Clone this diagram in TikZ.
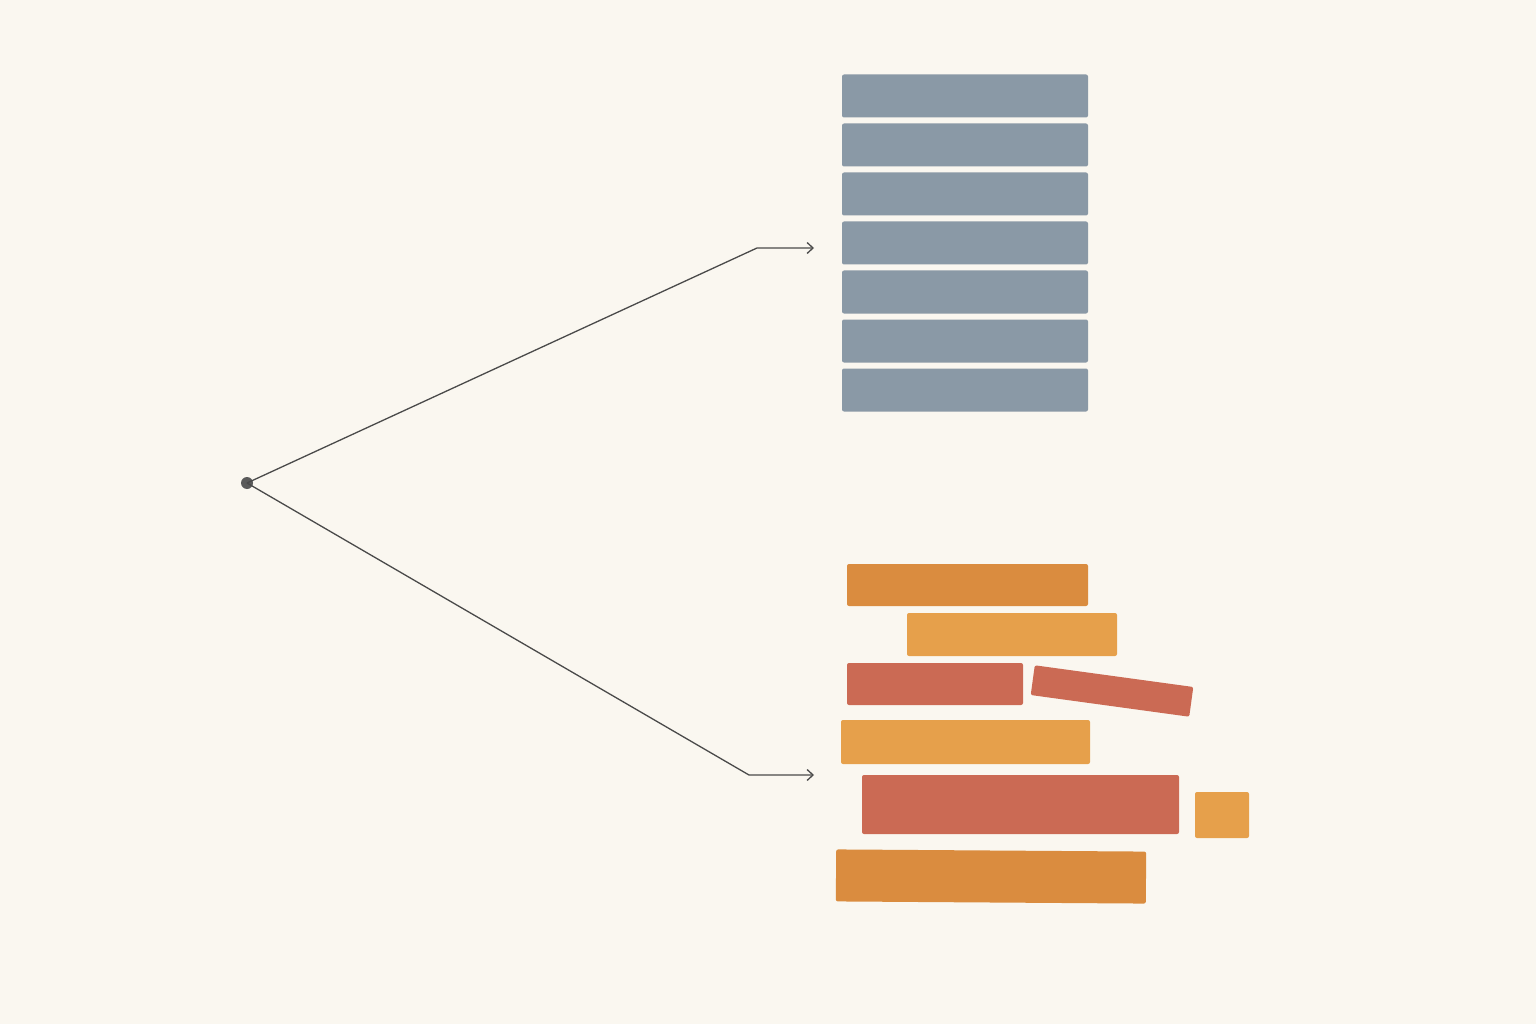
\documentclass[tikz,border=0pt]{standalone}
\usetikzlibrary{positioning, arrows.meta}
\definecolor{paper}{HTML}{FAF7F0}
\definecolor{slate}{HTML}{8A99A6}
\definecolor{amber}{HTML}{DA8C3F}
\definecolor{apricot}{HTML}{E6A04B}
\definecolor{brick}{HTML}{CB6A54}
\definecolor{ink}{HTML}{4A4A4A}
\definecolor{dot}{HTML}{5A5A5A}
\begin{document}
\begin{tikzpicture}[x=1pt, y=-1pt, node distance=49pt, on grid, line width=1.3pt,
	slat/.style={fill=slate, rounded corners=2pt, inner sep=0pt, minimum width=246pt, minimum height=43pt},
	brick/.style={fill=#1, rounded corners=2pt, inner sep=0pt},
	link/.style={-{Straight Barb[length=6pt, width=11pt]}, ink, line width=1.3pt}]
	\fill[paper] (0,0) rectangle (1536,1024);
	\useasboundingbox (0,0) rectangle (1536,1024);

	% tidy stack
	\node[slat] (s1) at (965,96) {};
	\node[slat] (s2) [below=of s1] {};
	\node[slat] (s3) [below=of s2] {};
	\node[slat] (s4) [below=of s3] {};
	\node[slat] (s5) [below=of s4] {};
	\node[slat] (s6) [below=of s5] {};
	\node[slat] (s7) [below=of s6] {};

	% messy pile
	\node[brick=amber, minimum width=241pt, minimum height=42pt] (m1) at (967.5,585) {};
	\node[brick=apricot, minimum width=210pt, minimum height=43pt] (m2) at (1012,634.5) {};
	\node[brick=brick, minimum width=176pt, minimum height=42pt] (m3) at (935,684) {};
	\node[brick=brick, minimum width=160pt, minimum height=30pt, rotate=-7.8] (m4) at (1112,691) {};
	\node[brick=apricot, minimum width=249pt, minimum height=44pt] (m5) at (965.5,742) {};
	\node[brick=brick, minimum width=317pt, minimum height=59pt] (m6) at (1020.5,804.5) {};
	\node[brick=apricot, minimum width=54pt, minimum height=46pt] (m7) at (1222,815) {};
	\node[brick=amber, minimum width=310pt, minimum height=52pt, rotate=-0.4] (m8) at (991,876.5) {};

	% branches
	\node[circle, fill=dot, inner sep=0pt, minimum size=12pt] (hub) at (247,483) {};
	\coordinate (upbend) at (757,248);
	\coordinate (up) at (814,248);
	\coordinate (downbend) at (749,775);
	\coordinate (down) at (814,775);

	\draw[link] (hub.center) -- (upbend) -- (up);
	\draw[link] (hub.center) -- (downbend) -- (down);
\end{tikzpicture}
\end{document}
